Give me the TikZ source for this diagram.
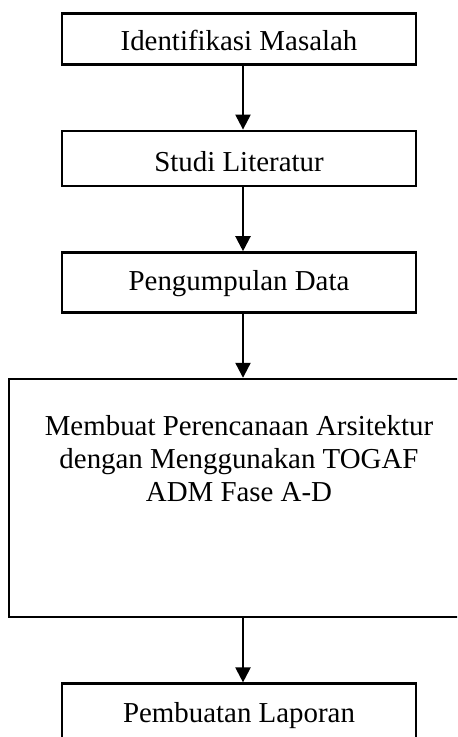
\documentclass[tikz,border=0pt]{standalone}
\usepackage{fontspec}
\setmainfont{Liberation Serif}
\usetikzlibrary{positioning,arrows.meta}

\begin{document}
\begin{tikzpicture}[node distance=32pt]
        \tikzset{steptext/.style={align=center, font=\fontsize{14.45}{16.5}\selectfont},
                 stepbox/.style={rectangle, draw, line width=1.3pt, minimum width=177pt, inner sep=0pt, steptext},
                 flow/.style={-{Triangle[length=7.5pt,width=7.5pt]}, line width=1.1pt}}
        \useasboundingbox (0,0) rectangle (228.5pt,-368.5pt);
        \clip (0,0) rectangle (228.5pt,-368.5pt);
        \node[stepbox, anchor=north, text height=18.5pt, text depth=7pt] (identifikasi) at (119.5pt,-6pt) {Identifikasi Masalah};
        \node[stepbox, below=of identifikasi, text height=20.5pt, text depth=7pt] (studi) {Studi Literatur};
        \node[stepbox, below=of studi, text height=19pt, text depth=11pt] (pengumpulan) {Pengumpulan Data};
        \node[stepbox, below=of pengumpulan, minimum width=230pt, minimum height=119pt] (perencanaan) {};
        \node[steptext] (perencanaanteks) at ([yshift=-40.5pt]perencanaan.north) {Membuat Perencanaan Arsitektur\\dengan Menggunakan TOGAF\\ADM Fase A-D};
        \node[stepbox, below=of perencanaan, text height=19.5pt, text depth=20pt] (laporan) {Pembuatan Laporan};
        \draw[flow] ([xshift=2pt]identifikasi.south) -- ([xshift=2pt]studi.north);
        \draw[flow] ([xshift=2pt]studi.south) -- ([xshift=2pt]pengumpulan.north);
        \draw[flow] ([xshift=2pt]pengumpulan.south) -- ([xshift=2pt]perencanaan.north);
        \draw[flow] ([xshift=2pt]perencanaan.south) -- ([xshift=2pt]laporan.north);
    \end{tikzpicture}
\end{document}
